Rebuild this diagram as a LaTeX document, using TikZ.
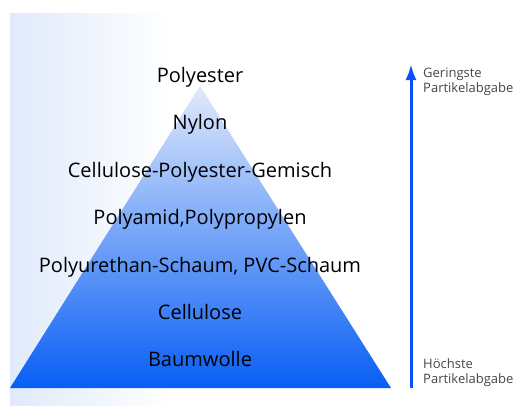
\documentclass[tikz,border=0pt]{standalone}
\usepackage{fontspec}
\setmainfont{Open Sans}
\usetikzlibrary{positioning,arrows.meta}

\definecolor{pyrtop}{RGB}{224,234,251}
\definecolor{pyrbottom}{RGB}{8,94,244}
\definecolor{arrowblue}{RGB}{10,80,245}
\definecolor{notegray}{RGB}{70,70,70}

\tikzset{
  layer/.style={inner sep=0pt, text height=16pt, text depth=5pt, font=\fontsize{20}{24}\selectfont},
  note/.style={inner sep=0pt, align=left, anchor=west, text=notegray, font=\fontsize{13}{20}\selectfont},
}

\begin{document}
\begin{tikzpicture}[x=1pt,y=-1pt, node distance=26pt]
  \useasboundingbox (0,0) rectangle (520,405);
  % background and pyramid
  \shade[left color=pyrtop, right color=white] (10,13) rectangle (172,405);
  \shade[top color=pyrtop, bottom color=pyrbottom] (10,388) -- (200,86) -- (391,388) -- cycle;

  \node[layer] (poly) at (200,77) {Polyester};
  \node[layer, below=of poly] (nylon) {Nylon};
  \node[layer, below=of nylon] (mix) {Cellulose-Polyester-Gemisch};
  \node[layer, below=of mix] (amid) {Polyamid,Polypropylen};
  \node[layer, below=of amid] (foam) {Polyurethan-Schaum, PVC-Schaum};
  \node[layer, below=of foam] (cell) {Cellulose};
  \node[layer, below=of cell] (cotton) {Baumwolle};

  % arrow
  \coordinate (low) at (411,388);
  \coordinate (high) at (411,64);
  \draw[arrowblue, line width=3pt, -{Latex[length=16pt,width=11pt]}] (low) -- (high);
  \node[note] (least) at (423,82) {Geringste\\[-5pt]Partikelabgabe};
  \node[note] (most) at (423,373) {Höchste\\[-5pt]Partikelabgabe};
\end{tikzpicture}
\end{document}
